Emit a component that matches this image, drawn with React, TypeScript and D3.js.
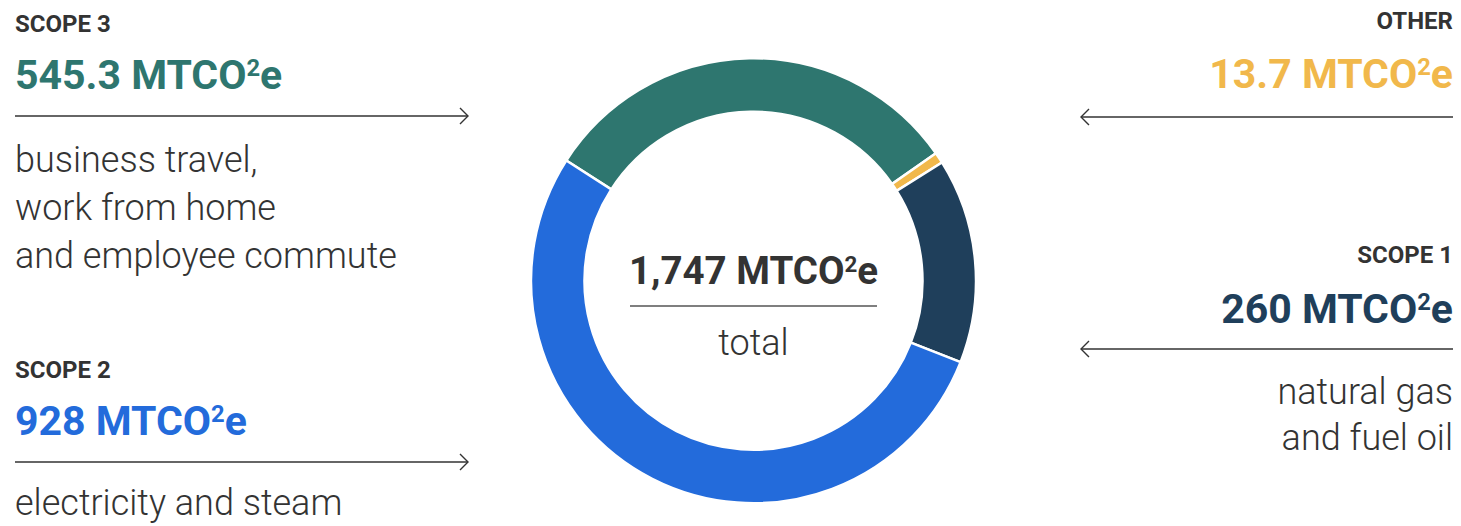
import React from "react";
import * as d3 from "d3";

const categories = ["Scope 3", "Other", "Scope 1", "Scope 2"];
const values = [545.3, 13.7, 260, 928];
const colors = ["#2E766F", "#F1B84B", "#1F3F5B", "#236BDB"];
const totalLabel = "1,747";

const W = 1461;
const H = 526;
const FONT = "Roboto, 'Noto Sans', sans-serif";
const TEXT = "#333333";

function Value({ x, y, anchor, color, num, size }: { x: number; y: number; anchor: string; color: string; num: string; size: number }) {
  return (
    <text x={x} y={y} textAnchor={anchor} fill={color} fontFamily={FONT} fontWeight={700} fontSize={size}>
      {num} MTCO
      <tspan fontSize={size * 0.58} dy={-size * 0.32}>2</tspan>
      <tspan dy={size * 0.32}>e</tspan>
    </text>
  );
}

function Arrow({ x1, x2, y, dir }: { x1: number; x2: number; y: number; dir: "right" | "left" }) {
  const tip = dir === "right" ? x2 : x1;
  const back = dir === "right" ? tip - 8 : tip + 8;
  return (
    <g stroke={TEXT} strokeWidth={1.4} fill="none">
      <line x1={x1} x2={x2} y1={y} y2={y} />
      <polyline points={`${back},${y - 8} ${tip},${y} ${back},${y + 8}`} />
    </g>
  );
}

export default function App() {
  const cx = 753.5;
  const cy = 280.7;
  const outer = 222.5;
  const inner = 169;
  const startDeg = -57.3;
  const pie = d3
    .pie<number>()
    .sort(null)
    .value((d) => d)
    .startAngle((startDeg * Math.PI) / 180)
    .endAngle(((startDeg + 360) * Math.PI) / 180);
  const arcs = pie(values);
  const arc = d3.arc<d3.PieArcDatum<number>>().innerRadius(inner).outerRadius(outer);

  const labelSize = 24;
  const valueSize = 41;
  const bodySize = 36;

  return (
    <svg width={W} height={H} style={{ position: "absolute", left: 0, top: 0 }}>
      <rect width={W} height={H} fill="#ffffff" />
      <g transform={`translate(${cx},${cy})`}>
        {arcs.map((a, i) => (
          <path key={categories[i]} d={arc(a) || ""} fill={colors[i]} stroke="#ffffff" strokeWidth={2.5} />
        ))}
      </g>

      {/* center */}
      <Value x={cx} y={284} anchor="middle" color={TEXT} num={totalLabel} size={38.5} />
      <line x1={630} x2={877} y1={306} y2={306} stroke="#555" strokeWidth={1.4} />
      <text x={cx} y={355} textAnchor="middle" fill={TEXT} fontFamily={FONT} fontWeight={300} fontSize={bodySize}>total</text>

      {/* Scope 3 */}
      <text x={15} y={32} fill={TEXT} fontFamily={FONT} fontWeight={700} fontSize={labelSize}>SCOPE 3</text>
      <Value x={15} y={89} anchor="start" color={colors[0]} num="545.3" size={valueSize} />
      <Arrow x1={15} x2={468} y={116} dir="right" />
      {["business travel,", "work from home", "and employee commute"].map((t, i) => (
        <text key={t} x={15} y={172 + i * 48} fill={TEXT} fontFamily={FONT} fontWeight={300} fontSize={bodySize}>{t}</text>
      ))}

      {/* Scope 2 */}
      <text x={15} y={378} fill={TEXT} fontFamily={FONT} fontWeight={700} fontSize={labelSize}>SCOPE 2</text>
      <Value x={15} y={435} anchor="start" color={colors[3]} num="928" size={valueSize} />
      <Arrow x1={15} x2={468} y={462} dir="right" />
      <text x={15} y={515} fill={TEXT} fontFamily={FONT} fontWeight={300} fontSize={bodySize}>electricity and steam</text>

      {/* Other */}
      <text x={1453} y={29} textAnchor="end" fill={TEXT} fontFamily={FONT} fontWeight={700} fontSize={labelSize}>OTHER</text>
      <Value x={1453} y={88} anchor="end" color={colors[1]} num="13.7" size={valueSize} />
      <Arrow x1={1081} x2={1453} y={117} dir="left" />

      {/* Scope 1 */}
      <text x={1453} y={263} textAnchor="end" fill={TEXT} fontFamily={FONT} fontWeight={700} fontSize={labelSize}>SCOPE 1</text>
      <Value x={1453} y={323} anchor="end" color={colors[2]} num="260" size={valueSize} />
      <Arrow x1={1081} x2={1453} y={349} dir="left" />
      <text x={1453} y={404} textAnchor="end" fill={TEXT} fontFamily={FONT} fontWeight={300} fontSize={bodySize}>natural gas</text>
      <text x={1453} y={450} textAnchor="end" fill={TEXT} fontFamily={FONT} fontWeight={300} fontSize={bodySize}>and fuel oil</text>
    </svg>
  );
}
